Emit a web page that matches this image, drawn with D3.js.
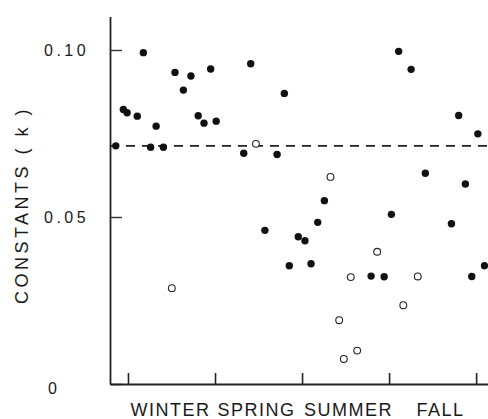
<!DOCTYPE html>
<html>
<head>
<meta charset="utf-8">
<script src="https://cdn.jsdelivr.net/npm/d3@7"></script>
<style>
  body { margin: 0; background: #fff; }
  svg { display: block; }
  text { font-family: "Liberation Sans", Arial, sans-serif; fill: #1a1a1a; }
</style>
</head>
<body>
<div id="chart"></div>
<script>
// x in months from start of winter, k = rate constant
var filledMonth = [-0.42, -0.16, -0.03, 0.32, 0.53, 0.78, 0.97, 1.22, 1.62, 1.91, 2.17, 2.42, 2.62, 2.85, 3.04,
                   3.99, 4.23, 4.72, 5.14, 5.39, 5.56, 5.87, 6.10, 6.31, 6.54, 6.77,
                   8.38, 8.83, 9.08, 9.33, 9.76, 10.25, 11.15, 11.40, 11.63, 11.85, 12.06, 12.29];
var filledK = [0.0713, 0.0822, 0.0812, 0.0802, 0.0992, 0.0709, 0.0772, 0.0709, 0.0933, 0.0880, 0.0922, 0.0803, 0.0781, 0.0943, 0.0787,
               0.0691, 0.0959, 0.0460, 0.0687, 0.0870, 0.0354, 0.0441, 0.0429, 0.0360, 0.0484, 0.0549,
               0.0323, 0.0321, 0.0508, 0.0996, 0.0942, 0.0631, 0.0480, 0.0804, 0.0599, 0.0322, 0.0749, 0.0354];
var openMonth = [1.51, 4.41, 6.98, 7.28, 7.44, 7.68, 7.90, 8.59, 9.49, 9.99];
var openK = [0.0287, 0.0719, 0.0620, 0.0191, 0.0075, 0.0320, 0.0100, 0.0396, 0.0236, 0.0322];
var meanK = 0.0713;
var seasons = ["WINTER", "SPRING", "SUMMER", "FALL"];
var seasonTicks = [0, 3, 6, 9, 12];
var kTicks = [0, 0.05, 0.10];
var kTickLabels = ["0", "0.05", "0.10"];

var width = 488, height = 419;
var labelNudge = [-1, -2, 3, 8]; // hand-lettered labels are not quite centred

var svg = d3.select("#chart").append("svg")
    .attr("width", width)
    .attr("height", height);

var x = d3.scaleLinear()
    .domain([-0.62, 12.41])
    .range([110, 488]);

var y = d3.scaleLinear()
    .domain([0, 0.11])
    .range([384, 16.6]);

// y axis, ticks pointing in
var yAxis = svg.append("g")
    .attr("transform", "translate(110,0)")
    .call(d3.axisLeft(y).tickValues(kTicks).tickSizeInner(-12).tickSizeOuter(0)
          .tickFormat(function(d, i) { return kTickLabels[i]; }));
yAxis.select(".domain").attr("stroke", "#222").attr("stroke-width", 1.8);
yAxis.selectAll(".tick line").attr("stroke", "#333").attr("stroke-width", 1.4);
yAxis.selectAll(".tick text")
    .attr("x", -66)
    .attr("dy", "0.36em")
    .attr("text-anchor", "start")
    .style("font-size", "16px")
    .style("letter-spacing", "3.5px");
yAxis.selectAll(".tick").filter(function(d) { return d === 0; }).select("text").attr("x", -62).attr("dy", "0.6em");

// x axis, ticks pointing up
var xAxis = svg.append("g")
    .attr("transform", "translate(0,384)")
    .call(d3.axisBottom(x).tickValues(seasonTicks).tickSizeInner(-11).tickSizeOuter(0).tickFormat(""));
xAxis.select(".domain").attr("stroke", "#222").attr("stroke-width", 1.8);
xAxis.selectAll(".tick line").attr("stroke", "#222").attr("stroke-width", 1.6);

svg.selectAll(".season")
    .data(seasons)
    .enter().append("text")
    .attr("class", "season")
    .attr("x", function(d, i) { return x(i * 3 + 1.5) + labelNudge[i]; })
    .attr("y", 416)
    .attr("text-anchor", "middle")
    .style("font-size", "18px")
    .style("letter-spacing", "1.5px")
    .text(function(d) { return d; });

svg.append("text")
    .attr("transform", "translate(28,205) rotate(-90)")
    .attr("text-anchor", "middle")
    .style("font-size", "18px")
    .style("letter-spacing", "3.5px")
    .text("CONSTANTS ( k )");

// mean line
svg.append("line")
    .attr("x1", x.range()[0])
    .attr("x2", x.range()[1])
    .attr("y1", y(meanK))
    .attr("y2", y(meanK))
    .attr("stroke", "#222")
    .attr("stroke-width", 1.8)
    .attr("stroke-dasharray", "9,7");

svg.selectAll(".filled")
    .data(filledMonth)
    .enter().append("circle")
    .attr("class", "filled")
    .attr("cx", function(d) { return x(d); })
    .attr("cy", function(d, i) { return y(filledK[i]); })
    .attr("r", 3.7)
    .attr("fill", "#111");

svg.selectAll(".open")
    .data(openMonth)
    .enter().append("circle")
    .attr("class", "open")
    .attr("cx", function(d) { return x(d); })
    .attr("cy", function(d, i) { return y(openK[i]); })
    .attr("r", 3.4)
    .attr("fill", "#fff")
    .attr("stroke", "#222")
    .attr("stroke-width", 1.1);
</script>
</body>
</html>
